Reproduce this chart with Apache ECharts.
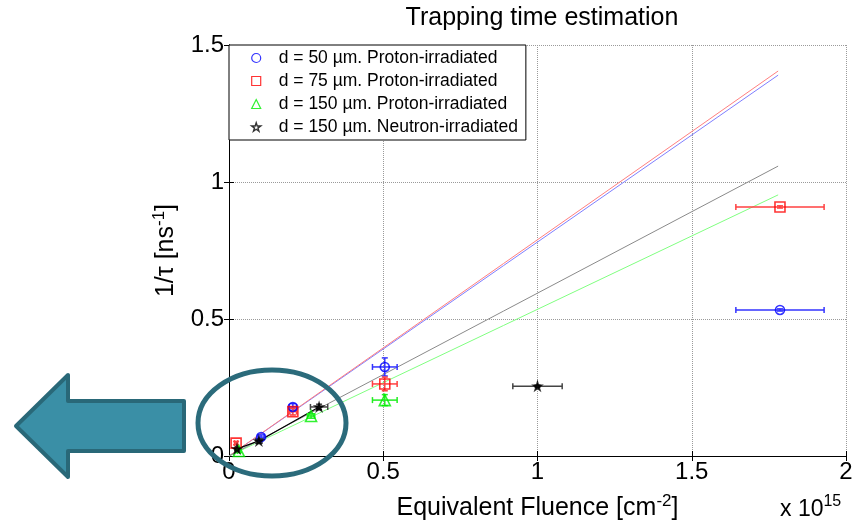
<!DOCTYPE html>
<html>
<head>
<meta charset="utf-8">
<script src="https://cdn.jsdelivr.net/npm/echarts@6/dist/echarts.min.js"></script>
<style>
html,body{margin:0;padding:0;background:#fff;}
#c{width:860px;height:526px;}
</style>
</head>
<body>
<div id="c"></div>
<script>
// Values in units of 1e15 cm^-2 (x) and ns^-1 (y)
const xTicks = [0, 0.5, 1, 1.5, 2];
const yTicks = [0, 0.5, 1, 1.5];

const names = [
  'd = 50 \u00b5m. Proton-irradiated',
  'd = 75 \u00b5m. Proton-irradiated',
  'd = 150 \u00b5m. Proton-irradiated',
  'd = 150 \u00b5m. Neutron-irradiated'
];

const blueX = [0.104, 0.207, 0.505, 1.786];
const blueY = [0.069, 0.179, 0.325, 0.533];
const blueXErr = [0.010, 0.012, 0.040, 0.143];
const blueYErr = [0.008, 0.012, 0.033, 0.004];

const redX = [0.023, 0.207, 0.505, 1.786];
const redY = [0.047, 0.162, 0.263, 0.909];
const redXErr = [0.005, 0.012, 0.040, 0.143];
const redYErr = [0.006, 0.012, 0.025, 0.004];

const greenX = [0.032, 0.266, 0.505];
const greenY = [0.018, 0.146, 0.204];
const greenXErr = [0.005, 0.012, 0.040];
const greenYErr = [0.005, 0.008, 0.020];

const blackX = [0.026, 0.097, 0.292, 1.00];
const blackY = [0.026, 0.055, 0.179, 0.255];
const blackXErr = [0.005, 0.010, 0.028, 0.080];
const blackYErr = [0.005, 0.008, 0.010, 0.004];

// linear fits through origin: [x, y] endpoints
const fitX = [0, 1.78];
const fitBlueY = [0, 1.390];
const fitRedY = [0, 1.405];
const fitGreyY = [0, 1.058];
const fitGreenY = [0, 0.953];

const FONT = '"Liberation Sans", Arial, sans-serif';
const STAR = 'path://M50,0 L61,35 L98,35 L68,57 L79,91 L50,70 L21,91 L32,57 L2,35 L39,35 Z';

function pts(xs, ys) { return xs.map((x, i) => [x, ys[i]]); }
function errPts(xs, ys, xe, ye) { return xs.map((x, i) => [x, ys[i], xe[i], ye[i]]); }

function errSeries(name, data, color) {
  return {
    type: 'custom', name: name, data: data, z: 3, silent: true,
    renderItem: function (params, api) {
      const x = api.value(0), y = api.value(1), xe = api.value(2), ye = api.value(3);
      const l = api.coord([x - xe, y]), r = api.coord([x + xe, y]);
      const t = api.coord([x, y + ye]), b = api.coord([x, y - ye]);
      const st = { stroke: color, lineWidth: 1.5, fill: null };
      const cap = 3;
      return {
        type: 'group',
        children: [
          { type: 'line', shape: { x1: l[0], y1: l[1], x2: r[0], y2: r[1] }, style: st },
          { type: 'line', shape: { x1: t[0], y1: t[1], x2: b[0], y2: b[1] }, style: st },
          { type: 'line', shape: { x1: l[0], y1: l[1] - cap, x2: l[0], y2: l[1] + cap }, style: st },
          { type: 'line', shape: { x1: r[0], y1: r[1] - cap, x2: r[0], y2: r[1] + cap }, style: st },
          { type: 'line', shape: { x1: t[0] - cap, y1: t[1], x2: t[0] + cap, y2: t[1] }, style: st },
          { type: 'line', shape: { x1: b[0] - cap, y1: b[1], x2: b[0] + cap, y2: b[1] }, style: st }
        ]
      };
    }
  };
}

function fitSeries(name, ys, color) {
  return {
    type: 'line', name: name, data: pts(fitX, ys), symbol: 'none', z: 2, silent: true,
    lineStyle: { color: color, width: 1 }
  };
}

function scatterSeries(name, data, symbol, size, color, fill) {
  return {
    type: 'scatter', name: name, data: data, symbol: symbol, symbolSize: size, z: 5,
    itemStyle: { color: fill, borderColor: color, borderWidth: 1.6 }
  };
}

const chart = echarts.init(document.getElementById('c'), null, { renderer: 'canvas' });

const option = {
  animation: false,
  backgroundColor: '#fff',
  textStyle: { fontFamily: FONT },
  title: {
    text: 'Trapping time estimation',
    left: 537, top: 1, textAlign: 'center',
    textStyle: { fontFamily: FONT, fontSize: 25, fontWeight: 'normal', color: '#000' }
  },
  grid: { left: 229, right: 14, top: 45, bottom: 70, containLabel: false },
  legend: {
    data: [
      { name: names[0], itemStyle: { borderWidth: 1.2 } },
      { name: names[1], itemStyle: { borderWidth: 1.2 } },
      { name: names[2], itemStyle: { borderWidth: 1.2 } },
      { name: names[3], icon: STAR, itemStyle: { color: '#fff', borderColor: '#000', borderWidth: 1.4 } }
    ],
    orient: 'vertical', left: 229, top: 45,
    backgroundColor: '#fff', borderColor: '#000', borderWidth: 1, borderRadius: 0,
    padding: [4, 8, 4, 22],
    itemWidth: 9, itemHeight: 9, itemGap: 5,
    textStyle: { fontFamily: FONT, fontSize: 17.5, color: '#000', lineHeight: 18, padding: [0, 0, 0, 13] },
    selectedMode: false
  },
  xAxis: [{
    type: 'value', min: 0, max: 2, interval: 0.5,
    name: 'Equivalent Fluence [cm{sup|-2}]', nameLocation: 'middle', nameGap: 37,
    nameTextStyle: {
      fontFamily: FONT, fontSize: 25, color: '#000',
      rich: { sup: { fontFamily: FONT, fontSize: 17, color: '#000', padding: [0, 0, 14, 0] } }
    },
    axisLine: { show: true, lineStyle: { color: '#000', width: 1 } },
    axisTick: { show: true, inside: true, length: 5, lineStyle: { color: '#000' } },
    axisLabel: { fontFamily: FONT, fontSize: 24, color: '#000', margin: 4,
      formatter: v => String(v) },
    splitLine: { show: true, lineStyle: { color: '#9a9a9a', type: 'dotted', width: 1 } }
  }, {
    type: 'value', min: 0, max: 2, interval: 0.5, position: 'top',
    axisLine: { show: true, lineStyle: { color: '#000', width: 1 } },
    axisTick: { show: true, inside: true, length: 5, lineStyle: { color: '#000' } },
    axisLabel: { show: false }, splitLine: { show: false }
  }],
  yAxis: [{
    type: 'value', min: 0, max: 1.5, interval: 0.5,
    name: '1/\u03c4 [ns{sup|-1}]', nameLocation: 'middle', nameGap: 47, nameRotate: 90,
    nameTextStyle: {
      fontFamily: FONT, fontSize: 25, color: '#000',
      rich: { sup: { fontFamily: FONT, fontSize: 17, color: '#000', padding: [0, 0, 14, 0] } }
    },
    axisLine: { show: true, lineStyle: { color: '#000', width: 1 } },
    axisTick: { show: true, inside: true, length: 5, lineStyle: { color: '#000' } },
    axisLabel: { fontFamily: FONT, fontSize: 24, color: '#000', margin: 5,
      formatter: v => String(v) },
    splitLine: { show: true, lineStyle: { color: '#9a9a9a', type: 'dotted', width: 1 } }
  }, {
    type: 'value', min: 0, max: 1.5, interval: 0.5, position: 'right',
    axisLine: { show: true, lineStyle: { color: '#000', width: 1 } },
    axisTick: { show: true, inside: true, length: 5, lineStyle: { color: '#000' } },
    axisLabel: { show: false }, splitLine: { show: false }
  }],
  series: [
    fitSeries('fit50', fitBlueY, '#7f7fff'),
    fitSeries('fit75', fitRedY, '#ff7f7f'),
    fitSeries('fit150p', fitGreenY, '#80ff80'),
    fitSeries('fit150n', fitGreyY, '#8a8a8a'),
    {
      type: 'line', name: 'link150n', data: pts(blackX.slice(0, 3), blackY.slice(0, 3)),
      symbol: 'none', z: 2, silent: true, lineStyle: { color: '#000', width: 1.2 }
    },
    errSeries('e50', errPts(blueX, blueY, blueXErr, blueYErr), '#3333ff'),
    errSeries('e75', errPts(redX, redY, redXErr, redYErr), '#ff4040'),
    errSeries('e150p', errPts(greenX, greenY, greenXErr, greenYErr), '#22ee22'),
    errSeries('e150n', errPts(blackX, blackY, blackXErr, blackYErr), '#444444'),
    scatterSeries(names[0], pts(blueX, blueY), 'circle', 9, '#0000ff', 'rgba(255,255,255,0)'),
    scatterSeries(names[1], pts(redX, redY), 'rect', 10, '#ff0000', 'rgba(255,255,255,0)'),
    scatterSeries(names[2], pts(greenX, greenY), 'triangle', 11, '#00ee00', 'rgba(255,255,255,0)'),
    scatterSeries(names[3], pts(blackX, blackY), STAR, 8, '#000000', '#000000')
  ],
  graphic: [
    {
      type: 'text', left: 780, top: 494, z: 10,
      style: {
        text: 'x 10{sup|15}', fill: '#000', font: '23px ' + FONT,
        rich: { sup: { fontSize: 16, fontFamily: FONT, fill: '#000', padding: [0, 0, 16, 0] } }
      }
    },
    {
      type: 'ellipse', z: 20,
      shape: { cx: 272, cy: 423, rx: 74, ry: 53 },
      style: { fill: null, stroke: '#2b6b7b', lineWidth: 5 }
    },
    {
      type: 'polygon', z: 20,
      shape: { points: [[16, 426], [68, 375], [68, 401], [184, 401], [184, 451], [68, 451], [68, 477]] },
      style: { fill: '#3a8fa6', stroke: '#296878', lineWidth: 4, lineJoin: 'round' }
    }
  ]
};

chart.setOption(option);
</script>
</body>
</html>
